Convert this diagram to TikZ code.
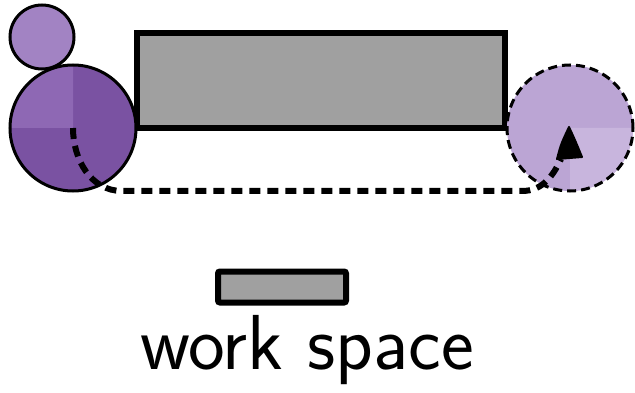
\documentclass[tikz,border=0pt]{standalone}
\usetikzlibrary{arrows.meta}
\definecolor{robotlight}{HTML}{A283C3}
\definecolor{robotdark}{HTML}{7A52A2}
\definecolor{robotmid}{HTML}{8E68B4}
\definecolor{goalfill}{HTML}{BBA5D4}
\definecolor{goalpale}{HTML}{C8B5DD}
\definecolor{spacegray}{HTML}{A0A0A0}
\tikzset{
  spacebox/.style={draw=black, line width=6pt, fill=spacegray},
  route/.style={line width=6pt, dash pattern=on 11pt off 7pt},
}
\begin{document}
\begin{tikzpicture}[x=1pt,y=-1pt]
\useasboundingbox (0,0) rectangle (635,393);
% work space block
\node[spacebox, minimum width=368pt, minimum height=95pt, inner sep=0pt] (ws) at (321,80.5) {};
% robot head and body
\node[circle, draw, line width=3pt, fill=robotlight, minimum size=64pt, inner sep=0pt] (head) at (42,37) {};
\coordinate (body) at (73,128);
\fill[robotdark] (body) circle (63pt);
\fill[robotmid] (body) -- (10,128) arc[start angle=180, end angle=90, radius=63pt] -- cycle;
\draw[line width=3pt] (body) circle (63pt);
% goal position
\coordinate (goal) at (570,128);
\fill[goalfill] (goal) circle (63pt);
\fill[goalpale] (goal) -- (633,128) arc[start angle=0, end angle=-90, radius=63pt] -- cycle;
\draw[line width=3pt, dash pattern=on 9pt off 5pt] (goal) circle (63pt);
% route from robot to goal
\coordinate (c1) at (122,191);
\coordinate (c2) at (522,191);
\coordinate (tipbase) at (561,159);
\draw[route] (body) to[out=-90,in=180] (c1) -- (c2) to[out=0,in=-115] (tipbase);
\draw[line width=2pt, fill=black, line join=round]
  (569,127) .. controls (575,140) .. (582,157) -- (557,159) .. controls (561,144) .. cycle;
% legend
\node[spacebox, minimum width=128pt, minimum height=31pt, inner sep=0pt, rounded corners=2pt] (legend) at (282,287) {};
\node[font=\sffamily\fontsize{78}{90}\selectfont, inner sep=0pt] (label) at (307,350) {work space};
\end{tikzpicture}
\end{document}
